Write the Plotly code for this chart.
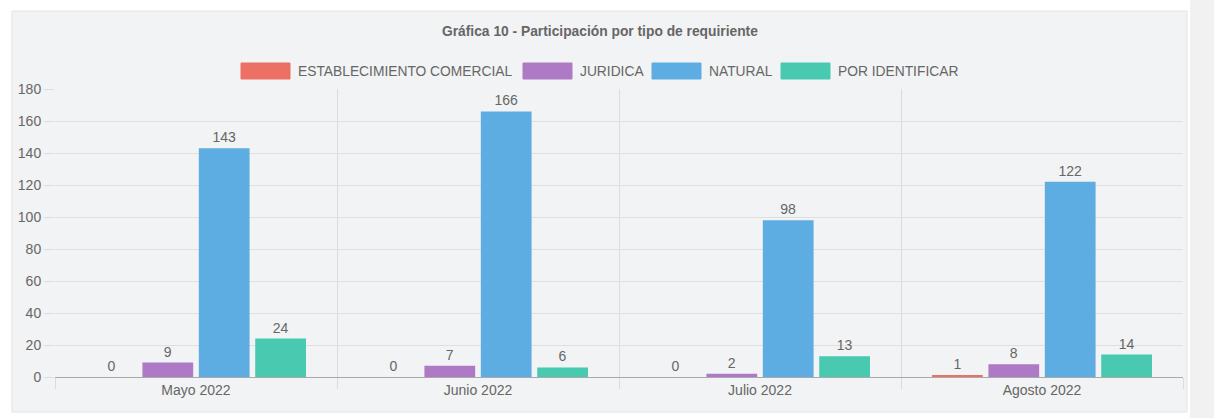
import plotly.graph_objects as go

categories = ["Mayo 2022", "Junio 2022", "Julio 2022", "Agosto 2022"]
series_names = ["ESTABLECIMIENTO COMERCIAL", "JURIDICA", "NATURAL", "POR IDENTIFICAR"]
establecimiento = [0, 0, 0, 1]
juridica = [9, 7, 2, 8]
natural = [143, 166, 98, 122]
por_identificar = [24, 6, 13, 14]
y_ticks = [0, 20, 40, 60, 80, 100, 120, 140, 160, 180]
title_text = "Gráfica 10 - Participación por tipo de requiriente"

colors = ["#EC7063", "#AF7AC5", "#5DADE2", "#48C9B0"]
values = [establecimiento, juridica, natural, por_identificar]

W, H = 1214, 418
L, R, T, B = 55, W - 1183, 89, H - 377
PW, PH = W - L - R, H - T - B

def px(x):
    return (x - L) / PW

def py(y):
    return (H - B - y) / PH

FONT = "Liberation Sans, Arial, Helvetica, sans-serif"
TXT = "#666666"
FS = 14

fig = go.Figure()
for name, vals, c in zip(series_names, values, colors):
    fig.add_trace(go.Bar(
        x=categories, y=vals, name=name,
        marker=dict(color=c, line=dict(width=0)),
        text=[str(v) for v in vals], textposition="outside",
        textfont=dict(color=TXT, size=FS, family=FONT),
        constraintext="none", cliponaxis=False, showlegend=False,
    ))

shapes = [
    # panel background
    dict(type="rect", xref="paper", yref="paper", layer="below",
         x0=px(12), x1=px(1187), y0=py(412), y1=py(11),
         fillcolor="#f2f3f4", line=dict(color="#e3e4e6", width=1)),
    # right strip
    dict(type="rect", xref="paper", yref="paper", layer="below",
         x0=px(1190), x1=px(1214), y0=py(418), y1=py(0),
         fillcolor="#f1f1f1", line=dict(width=0)),
]
annotations = [
    dict(text="<b>" + title_text + "</b>", xref="paper", yref="paper",
         x=px(600), y=py(32), xanchor="center", yanchor="middle",
         showarrow=False, font=dict(size=13.8, color=TXT, family=FONT)),
]

# custom legend (wide colour boxes)
legend_boxes = [241, 523, 652, 781]
for name, c, bx in zip(series_names, colors, legend_boxes):
    shapes.append(dict(type="rect", xref="paper", yref="paper",
                       x0=px(bx), x1=px(bx + 49), y0=py(79), y1=py(63),
                       fillcolor=c, line=dict(color=c, width=1)))
    annotations.append(dict(text=name, xref="paper", yref="paper",
                            x=px(bx + 55), y=py(71), xanchor="left", yanchor="middle",
                            showarrow=False, font=dict(size=13.8, color=TXT, family=FONT)))

fig.update_layout(
    width=W, height=H,
    margin=dict(l=L, r=R, t=T, b=B, pad=0),
    paper_bgcolor="#ffffff", plot_bgcolor="rgba(0,0,0,0)",
    barmode="group", bargap=0.2, bargroupgap=0.1,
    font=dict(family=FONT, color=TXT, size=FS),
    shapes=shapes, annotations=annotations, showlegend=False,
    xaxis=dict(type="category", tickson="boundaries", showgrid=True,
               gridcolor="#dcdcdc", gridwidth=1, ticks="outside", ticklen=11,
               tickcolor="#dcdcdc", showline=True, linecolor="#a9a9a9",
               tickfont=dict(size=FS, color=TXT, family=FONT),
               fixedrange=True),
    yaxis=dict(range=[0, 180], tickvals=y_ticks, showgrid=True,
               gridcolor="#dfdfdf", gridwidth=1, ticks="outside", ticklen=10,
               tickcolor="#dcdcdc", zeroline=False, showline=False,
               tickfont=dict(size=FS, color=TXT, family=FONT),
               fixedrange=True),
)

fig.write_html("out.html", config={"displayModeBar": False})
